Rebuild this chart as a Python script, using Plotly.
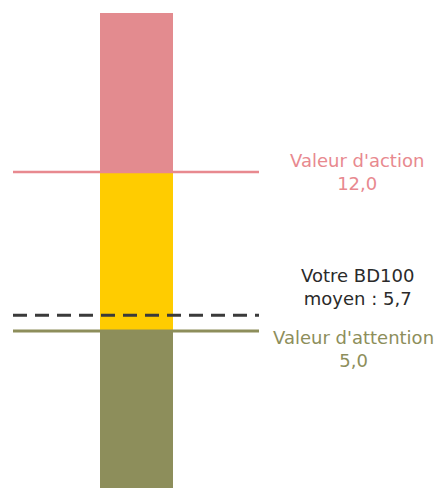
import plotly.graph_objects as go

# Data
segment_names = ["Attention", "Moyen", "Action"]
segment_bottoms = [-3.0, 5.0, 12.0]
segment_tops = [5.0, 12.0, 19.0]
segment_colors = ["#8d8e5b", "#ffcc00", "#e38b8f"]

attention_value = 5.0
action_value = 12.0
average_value = 5.7

labels = {
    "action": "Valeur d'action<br>12,0",
    "average": "Votre BD100<br>moyen : 5,7",
    "attention": "Valeur d'attention<br>5,0",
}

# Layout constants (page has 8px body margin)
X_RANGE = [8, 443]
Y_RANGE = [-1.91, 19.22]
BAR_X = 136.5
BAR_W = 73
LINE_X0, LINE_X1 = 13, 259
TEXT_X = 357
TEXT_X_ATT = 353
FONT = "DejaVu Sans"

fig = go.Figure()
for name, b, t, c in zip(segment_names, segment_bottoms, segment_tops, segment_colors):
    fig.add_trace(go.Bar(
        x=[BAR_X], y=[t - b], base=[b], width=BAR_W,
        marker=dict(color=c, line=dict(width=0)),
        name=name, showlegend=False, hoverinfo="skip",
    ))

fig.add_shape(type="line", x0=LINE_X0, x1=LINE_X1, y0=action_value, y1=action_value,
              line=dict(color="#e8898f", width=2.5))
fig.add_shape(type="line", x0=LINE_X0, x1=LINE_X1, y0=attention_value, y1=attention_value,
              line=dict(color="#8d8e5b", width=3))
fig.add_shape(type="line", x0=LINE_X0, x1=LINE_X1, y0=average_value, y1=average_value,
              line=dict(color="#3a3a3a", width=3, dash="14px,8px"))

fig.add_annotation(x=TEXT_X, y=action_value, text=labels["action"], showarrow=False,
                   font=dict(family=FONT, size=18, color="#e8898f"), align="center")
fig.add_annotation(x=TEXT_X, y=6.94, text=labels["average"], showarrow=False,
                   font=dict(family=FONT, size=18, color="#2a2a2a"), align="center")
fig.add_annotation(x=TEXT_X_ATT, y=4.21, text=labels["attention"], showarrow=False,
                   font=dict(family=FONT, size=18, color="#8d8e5b"), align="center")

fig.update_layout(
    width=435, height=480,
    margin=dict(l=0, r=0, t=0, b=0),
    paper_bgcolor="white", plot_bgcolor="white",
    barmode="overlay",
    xaxis=dict(range=X_RANGE, visible=False, fixedrange=True),
    yaxis=dict(range=Y_RANGE, visible=False, fixedrange=True),
    showlegend=False,
)

fig.write_html("out.html", config={"displayModeBar": False})
